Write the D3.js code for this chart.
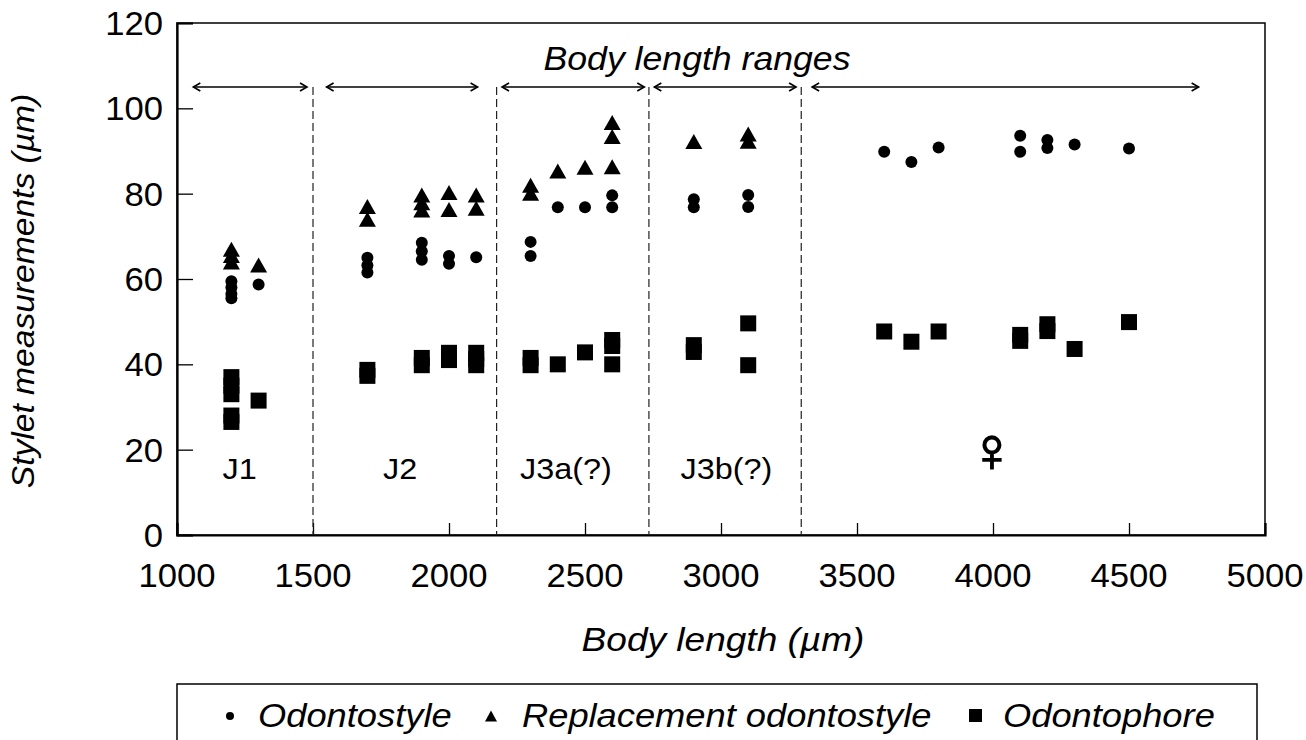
<!DOCTYPE html>
<html><head><meta charset="utf-8">
<script src="https://cdn.jsdelivr.net/npm/d3@7"></script>
<style>body{margin:0;background:#fff}svg{display:block}text{font-family:"Liberation Sans",Arial,sans-serif;fill:#000}</style>
</head><body><svg id="c" width="1306" height="740"></svg>
<script>
// ---- data ----
const odontostyleX = [1200,1200,1200,1200,1300,1700,1700,1700,1900,1900,1900,2000,2000,2100,2300,2300,2400,2500,2600,2600,2900,2900,3100,3100,3600,3700,3800,4100,4100,4200,4200,4300,4500];
const odontostyleY = [59.5,58,56.5,55.5,58.7,65,63.2,61.5,68.5,66.5,64.5,65.4,63.6,65.1,68.7,65.4,76.8,76.8,79.6,76.8,78.7,76.8,79.7,76.9,89.8,87.4,90.8,93.6,89.8,92.6,90.7,91.5,90.6];
const replacementX = [1200,1200,1200,1300,1700,1700,1900,1900,1900,2000,2000,2100,2100,2300,2300,2400,2500,2600,2600,2600,2900,3100,3100];
const replacementY = [67,65.5,64,63.3,77,74,79.7,77.9,76.2,80.3,76.3,79.7,76.6,82,80.1,85.3,86.2,96.7,93.4,86.3,92.2,94,92.3];
const odontophoreX = [1200,1200,1200,1200,1200,1300,1700,1700,1900,1900,2000,2000,2100,2100,2100,2300,2300,2400,2500,2600,2600,2600,2900,2900,3100,3100,3600,3700,3800,4100,4100,4200,4200,4300,4500];
const odontophoreY = [37,35,33,28,26.5,31.5,38.7,37.3,41.5,39.8,42.7,41,42.7,41.2,39.8,41.5,39.8,40,42.8,45.7,44.3,40,44.5,42.9,49.6,39.8,47.7,45.3,47.7,46.9,45.5,49.4,47.8,43.6,49.9];
const xTicks = [1000,1500,2000,2500,3000,3500,4000,4500,5000];
const yTicks = [0,20,40,60,80,100,120];
const stageNames = ["J1","J2","J3a(?)","J3b(?)"];
const stageLabelX = [1230,1820,2430,3020];
const femaleLabel = "\u2640";
const femaleLabelX = 3996;
const rangeStart = [1060,1550,2195,2755,3335];
const rangeEnd = [1478,2105,2718,3276,4756];
const boundaries = [1500,2175,2735,3295];
const rangeLevel = 105;
const stageLabelLevel = 16;
const legendNames = ["Odontostyle","Replacement odontostyle","Odontophore"];

// ---- layout ----
const svg = d3.select("#c");
const L = 177, R = 1265, T = 23, B = 535;
const x = d3.scaleLinear().domain([1000,5000]).range([L,R]);
const y = d3.scaleLinear().domain([0,120]).range([B,T]);
const place = (px,py,s)=>`translate(${px},${py}) scale(${s},1)`;

// frame
svg.append("rect").attr("x",L).attr("y",T).attr("width",R-L).attr("height",B-T)
  .attr("fill","none").attr("stroke","#000").attr("stroke-width",1.5);

// axes (inward ticks)
const xa = svg.append("g").attr("transform",`translate(0,${B})`)
  .call(d3.axisTop(x).tickValues(xTicks).tickSize(12).tickFormat(""));
xa.select(".domain").attr("stroke-width",2.2);
xa.selectAll(".tick line").attr("stroke-width",1.3);
const ya = svg.append("g").attr("transform",`translate(${L},0)`)
  .call(d3.axisRight(y).tickValues(yTicks).tickSize(16).tickFormat(""));
ya.select(".domain").attr("stroke-width",2.2);
ya.selectAll(".tick line").attr("stroke-width",1.3);

// tick labels
svg.append("g").selectAll("text").data(xTicks).join("text")
  .attr("transform",d=>place(x(d),B+52,1.05)).attr("text-anchor","middle")
  .attr("font-size",33).text(d=>d);
svg.append("g").selectAll("text").data(yTicks).join("text")
  .attr("transform",d=>place(L-14,y(d)+12,1.05)).attr("text-anchor","end")
  .attr("font-size",33).text(d=>d);

// axis titles
svg.append("text").attr("transform",place(723,651,1.09)).attr("text-anchor","middle")
  .attr("font-size",34).attr("font-style","italic").text("Body length (\u00b5m)");
svg.append("text").attr("transform",`translate(34,${(T+B)/2+12}) rotate(-90) scale(1.05,1)`)
  .attr("text-anchor","middle").attr("font-size",32).attr("font-style","italic")
  .text("Stylet measurements (\u00b5m)");

// boundaries
svg.append("g").selectAll("line").data(boundaries).join("line")
  .attr("x1",d=>x(d)).attr("x2",d=>x(d)).attr("y1",y(rangeLevel)).attr("y2",B)
  .attr("stroke","#222").attr("stroke-width",1.2).attr("stroke-dasharray","8,4");

// range arrows
const ar = svg.append("g").attr("stroke","#000").attr("stroke-width",1.6).attr("fill","none");
rangeStart.forEach((s,i)=>{
  const x0 = x(s), x1 = x(rangeEnd[i]), yy = y(rangeLevel);
  ar.append("line").attr("x1",x0).attr("x2",x1).attr("y1",yy).attr("y2",yy);
  ar.append("path").attr("d",`M${x0+7},${yy-4}L${x0},${yy}L${x0+7},${yy+4}`);
  ar.append("path").attr("d",`M${x1-7},${yy-4}L${x1},${yy}L${x1-7},${yy+4}`);
});
svg.append("text").attr("transform",place(697,70,1.08)).attr("text-anchor","middle")
  .attr("font-size",33).attr("font-style","italic").text("Body length ranges");

// stage labels
svg.append("g").selectAll("text").data(stageNames).join("text")
  .attr("transform",(d,i)=>place(x(stageLabelX[i]),y(stageLabelLevel)+12,1.08))
  .attr("text-anchor","middle").attr("font-size",30).text(d=>d);
svg.append("text").attr("x",x(femaleLabelX)).attr("y",y(stageLabelLevel)+4)
  .attr("text-anchor","middle").attr("font-size",62).attr("font-family","DejaVu Sans")
  .attr("stroke","#000").attr("stroke-width",1.6)
  .text(femaleLabel);

// markers
const tri = (cx,cy,w=17,h=15)=>`M${cx},${cy-h/2}L${cx+w/2},${cy+h/2}L${cx-w/2},${cy+h/2}Z`;
svg.append("g").selectAll("circle").data(odontostyleX).join("circle")
  .attr("cx",d=>x(d)).attr("cy",(d,i)=>y(odontostyleY[i])).attr("r",6).attr("fill","#000");
svg.append("g").selectAll("path").data(replacementX).join("path")
  .attr("d",(d,i)=>tri(x(d),y(replacementY[i]))).attr("fill","#000");
svg.append("g").selectAll("rect").data(odontophoreX).join("rect")
  .attr("x",d=>x(d)-8).attr("y",(d,i)=>y(odontophoreY[i])-8).attr("width",16).attr("height",16).attr("fill","#000");

// legend
const lg = svg.append("g");
lg.append("rect").attr("x",177).attr("y",684).attr("width",1080).attr("height",80)
  .attr("fill","none").attr("stroke","#000").attr("stroke-width",1.5);
lg.append("circle").attr("cx",230).attr("cy",716).attr("r",4).attr("fill","#000");
lg.append("path").attr("d",tri(491,716,12,11)).attr("fill","#000");
lg.append("rect").attr("x",969).attr("y",709).attr("width",13).attr("height",13).attr("fill","#000");
const legX = [258,522,1003];
lg.selectAll("text.l").data(legendNames).join("text").attr("class","l")
  .attr("transform",(d,i)=>place(legX[i],727,1.1)).attr("font-size",33).attr("font-style","italic").text(d=>d);
</script></body></html>
